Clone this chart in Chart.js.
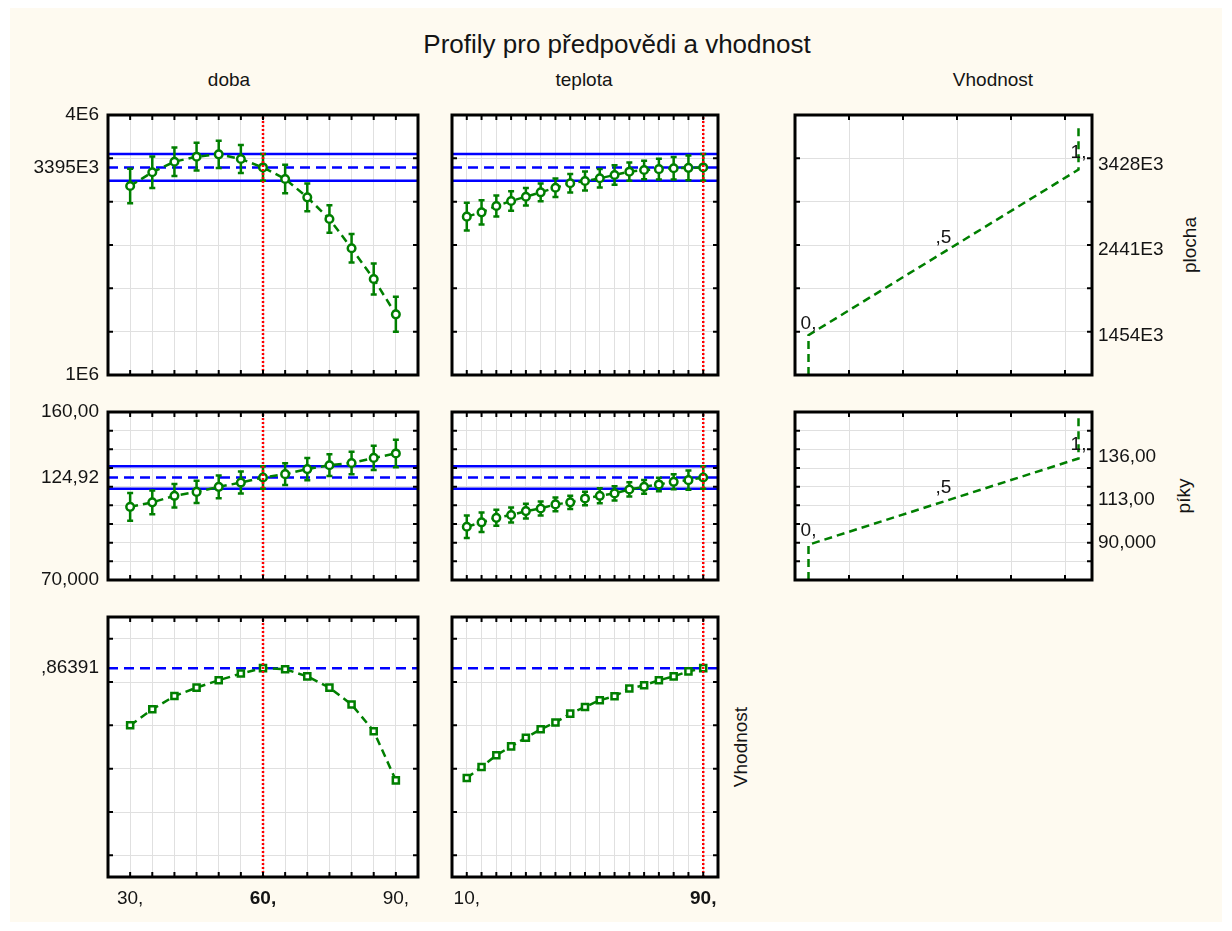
<!DOCTYPE html>
<html><head><meta charset="utf-8">
<script src="https://cdn.jsdelivr.net/npm/chart.js@4.4.0/dist/chart.umd.min.js"></script>
<style>
html,body{margin:0;padding:0;background:#fff;}
#page{position:relative;width:1232px;height:931px;overflow:hidden;background:#fff;font-family:"Liberation Sans",Arial,Helvetica,sans-serif;color:#141414;}
#bg{position:absolute;left:10px;top:8px;width:1212px;height:914px;background:#FEFAF0;}
canvas{position:absolute;}
.t{position:absolute;white-space:nowrap;line-height:1;font-size:19px;}
.c{transform:translateX(-50%);}
.r{transform:translate(-50%,-50%) rotate(-90deg);}
</style></head>
<body><div id="page"><div id="bg"></div>
<div class="t c" style="left:617px;top:31px;font-size:26px;">Profily pro předpovědi a vhodnost</div>
<div class="t c" style="left:229px;top:70px;">doba</div>
<div class="t c" style="left:584px;top:70px;">teplota</div>
<div class="t c" style="left:993px;top:70px;">Vhodnost</div>
<div class="t r" style="left:1189px;top:245px;">plocha</div>
<div class="t r" style="left:1183px;top:496px;">píky</div>
<div class="t r" style="left:740px;top:747px;">Vhodnost</div>
</div>
<script>
// ---------- data ----------
const doba = [30,35,40,45,50,55,60,65,70,75,80,85,90];
const teplota = [10,15,20,25,30,35,40,45,50,55,60,65,70,75,80,85,90];
const currentDoba = 60;
const currentTeplota = 90;

const plochaDoba = [3181e3,3339e3,3461e3,3519e3,3546e3,3492e3,3395e3,3262e3,3050e3,2800e3,2462e3,2108e3,1700e3];
const plochaDobaErr = [198e3,182e3,165e3,160e3,158e3,161e3,155e3,165e3,160e3,160e3,165e3,179e3,202e3];
const plochaTeplota = [2827e3,2877e3,2950e3,3008e3,3057e3,3108e3,3161e3,3212e3,3238e3,3270e3,3308e3,3346e3,3365e3,3375e3,3385e3,3390e3,3395e3];
const plochaTeplotaErr = [160e3,140e3,121e3,112e3,100e3,102e3,106e3,106e3,110e3,106e3,112e3,106e3,106e3,119e3,130e3,144e3,155e3];
const plochaCurrent = 3395e3;
const plochaHalfCI = 155e3;

const pikyDoba = [109.2,111.6,115.1,117.2,119.9,122.2,124.92,126.7,129.4,131.5,132.7,135.4,137.8];
const pikyDobaErr = [7.4,6.4,6.3,6.0,6.1,5.9,6.0,5.8,6.0,5.8,6.0,6.5,7.4];
const pikyTeplota = [98.5,100.9,103.3,104.8,106.9,108.3,110.5,111.6,113.7,115.1,116.4,118.5,119.9,121.2,122.6,123.5,124.92];
const pikyTeplotaErr = [6.0,5.2,4.3,4.0,4.0,3.7,3.7,3.6,3.6,4.0,3.8,3.8,3.7,3.6,4.0,5.2,6.0];
const pikyCurrent = 124.92;
const pikyHalfCI = 6.0;

const vhodnostDoba = [0.600,0.674,0.735,0.774,0.808,0.839,0.864,0.859,0.826,0.774,0.696,0.573,0.346];
const vhodnostTeplota = [0.357,0.408,0.462,0.503,0.543,0.582,0.613,0.654,0.685,0.716,0.734,0.770,0.785,0.808,0.826,0.849,0.864];
const vhodnostCurrent = 0.86391;

// desirability functions (x = desirability, y = response)
const desirX = [0, 0, 0.5, 1, 1];
const plochaDesirY = [1.0e6, 1460e3, 2415e3, 3370e3, 3905e3];
const pikyDesirY = [70, 88.9, 112.0, 135.1, 158.5];
const levelX = [0, 0.5, 1];
const levelTexts = ['0,', ',5', '1,'];
const plochaLevels = [1454e3, 2441e3, 3428e3];
const plochaLevelTexts = ['1454E3', '2441E3', '3428E3'];
const pikyLevels = [90, 113, 136];
const pikyLevelTexts = ['90,000', '113,00', '136,00'];

// axis ticks / labels
const plochaTicks = [1e6, 3395e3, 4e6];
const plochaTickTexts = ['1E6', '3395E3', '4E6'];
const pikyTicks = [70, 124.92, 160];
const pikyTickTexts = ['70,000', '124,92', '160,00'];
const vhodnostTicks = [0.86391];
const vhodnostTickTexts = [',86391'];
const dobaLabelTicks = [30, 60, 90];
const dobaLabelTexts = ['30,', '60,', '90,'];
const teplotaLabelTicks = [10, 90];
const teplotaLabelTexts = ['10,', '90,'];

const plochaGrid = [1.5e6, 2e6, 2.5e6, 3e6, 3.5e6];
const pikyGrid = [80, 90, 100, 110, 120, 130, 140, 150];
const vhodnostGrid = [0, 0.2, 0.4, 0.6, 0.8, 1.0];
const desirGrid = [0.15, 0.35, 0.55, 0.75, 0.95];

// ---------- drawing ----------
const FONT = '"Liberation Sans", Arial, Helvetica, sans-serif';
const FS = 19;
const GREEN = '#007f00', BLUE = '#0000ff', RED = '#ff0000', GRIDC = '#e0e0e0', INK = '#141414';

function makeDeco(d) {
  return {
    id: 'deco',
    beforeDraw(chart) {
      const {ctx, chartArea: a} = chart;
      ctx.save();
      ctx.fillStyle = '#ffffff';
      ctx.fillRect(a.left, a.top, a.right - a.left, a.bottom - a.top);
      ctx.restore();
    },
    beforeDatasetsDraw(chart) {
      const {ctx, chartArea: a} = chart;
      const x = chart.scales.x, y = chart.scales.y;
      ctx.save();
      ctx.beginPath(); ctx.rect(a.left, a.top, a.right - a.left, a.bottom - a.top); ctx.clip();
      (d.hLines || []).forEach(h => {
        const py = y.getPixelForValue(h.v);
        ctx.strokeStyle = BLUE; ctx.lineWidth = 2.5;
        ctx.setLineDash(h.dash ? [10, 6] : []);
        ctx.beginPath(); ctx.moveTo(a.left, py); ctx.lineTo(a.right, py); ctx.stroke();
      });
      if (d.err) {
        ctx.setLineDash([]); ctx.strokeStyle = GREEN; ctx.lineWidth = 2.5;
        d.err.x.forEach((xv, i) => {
          const px = x.getPixelForValue(xv);
          const y1 = y.getPixelForValue(d.err.y[i] - d.err.e[i]);
          const y2 = y.getPixelForValue(d.err.y[i] + d.err.e[i]);
          ctx.beginPath();
          ctx.moveTo(px, y1); ctx.lineTo(px, y2);
          ctx.moveTo(px - 3, y1); ctx.lineTo(px + 3, y1);
          ctx.moveTo(px - 3, y2); ctx.lineTo(px + 3, y2);
          ctx.stroke();
        });
      }
      ctx.restore();
    },
    afterDatasetsDraw(chart) {
      const {ctx, chartArea: a} = chart;
      const x = chart.scales.x, y = chart.scales.y;
      ctx.save();
      if (d.vLine != null) {
        const px = x.getPixelForValue(d.vLine);
        ctx.strokeStyle = RED; ctx.lineWidth = 2.5; ctx.setLineDash([2, 2]);
        ctx.beginPath(); ctx.moveTo(px, a.top + 2); ctx.lineTo(px, a.bottom); ctx.stroke();
      }
      if (d.annot) {
        ctx.setLineDash([]);
        ctx.fillStyle = INK; ctx.font = FS + 'px ' + FONT;
        ctx.textAlign = 'center'; ctx.textBaseline = 'alphabetic';
        d.annot.x.forEach((xv, i) => {
          ctx.fillText(d.annot.t[i], x.getPixelForValue(xv), y.getPixelForValue(d.annot.y[i]) - 7);
        });
      }
      ctx.restore();
    },
    afterDraw(chart) {
      const {ctx, chartArea: a} = chart;
      const x = chart.scales.x, y = chart.scales.y;
      ctx.save();
      ctx.setLineDash([]);
      ctx.strokeStyle = '#000'; ctx.lineWidth = 2;
      ctx.beginPath();
      x.ticks.forEach(t => {
        const px = x.getPixelForValue(t.value);
        ctx.moveTo(px, a.top); ctx.lineTo(px, a.top + 5);
        ctx.moveTo(px, a.bottom); ctx.lineTo(px, a.bottom - 5);
      });
      y.ticks.forEach(t => {
        const py = y.getPixelForValue(t.value);
        ctx.moveTo(a.left, py); ctx.lineTo(a.left + 5, py);
        ctx.moveTo(a.right, py); ctx.lineTo(a.right - 5, py);
      });
      ctx.stroke();
      ctx.lineWidth = 3;
      ctx.strokeRect(a.left, a.top, a.right - a.left, a.bottom - a.top);
      ctx.restore();
    }
  };
}

function zeroSize(ax) { if (ax.isHorizontal()) ax.height = 0; else ax.width = 0; }
function fixedSize(n) { return ax => { if (ax.isHorizontal()) ax.height = n; else ax.width = n; }; }

function makePanel(s) {
  const [L, T, R, B] = s.box;
  const m = {l: 110, t: 26, r: 110, b: 46};
  const pad = {left: m.l, top: m.t, right: m.r, bottom: m.b};
  const W = R - L + m.l + m.r, H = B - T + m.t + m.b;
  const cv = document.createElement('canvas');
  cv.width = W; cv.height = H;
  cv.style.left = (L - m.l) + 'px'; cv.style.top = (T - m.t) + 'px';
  cv.style.width = W + 'px'; cv.style.height = H + 'px';
  document.getElementById('page').appendChild(cv);
  const scales = {
    x: {type: 'linear', position: 'bottom', min: s.xMin, max: s.xMax,
        afterBuildTicks: ax => { ax.ticks = s.xGrid.map(v => ({value: v})); },
        afterFit: zeroSize, ticks: {display: false},
        grid: {color: GRIDC, lineWidth: 1, drawTicks: false}, border: {display: false}},
    y: {type: 'linear', position: 'left', min: s.yMin, max: s.yMax,
        afterBuildTicks: ax => { ax.ticks = s.yGrid.map(v => ({value: v})); },
        afterFit: zeroSize, ticks: {display: false},
        grid: {color: GRIDC, lineWidth: 1, drawTicks: false}, border: {display: false}}
  };
  if (s.yLab) {
    const left = s.yLab.pos === 'left';
    if (left) pad.left = 0; else pad.right = 0;
    scales.yl = {type: 'linear', position: s.yLab.pos, min: s.yMin, max: s.yMax,
      afterBuildTicks: ax => { ax.ticks = s.yLab.values.map(v => ({value: v})); },
      afterFit: fixedSize(left ? m.l : m.r), grid: {display: false, drawTicks: false}, border: {display: false},
      ticks: {display: true, autoSkip: false, padding: left ? 9 : 6, color: INK,
              font: {family: FONT, size: FS}, callback: (v, i) => s.yLab.texts[i]}};
  }
  if (s.xLab) {
    pad.bottom = 0;
    scales.xl = {type: 'linear', position: 'bottom', min: s.xMin, max: s.xMax,
      afterBuildTicks: ax => { ax.ticks = s.xLab.values.map(v => ({value: v})); },
      afterFit: fixedSize(m.b), grid: {display: false, drawTicks: false}, border: {display: false},
      ticks: {display: true, autoSkip: false, maxRotation: 0, minRotation: 0, padding: 10, color: INK,
              font: ctx => ({family: FONT, size: FS, weight: (ctx.tick && ctx.tick.value === s.xLab.bold) ? 'bold' : 'normal'}),
              callback: (v, i) => s.xLab.texts[i]}};
  }
  new Chart(cv, {
    type: 'scatter',
    data: {datasets: s.datasets},
    options: {
      responsive: false, animation: false, devicePixelRatio: 1, events: [],
      layout: {padding: pad},
      scales,
      plugins: {legend: {display: false}, tooltip: {enabled: false}, title: {display: false}}
    },
    plugins: [makeDeco(s.deco || {})]
  });
}

function profile(xs, ys, style) {
  return {
    data: xs.map((x, i) => ({x: x, y: ys[i]})),
    showLine: true, borderColor: GREEN, borderWidth: 2.5, borderDash: [8, 5],
    pointStyle: style, pointRadius: style === 'rect' ? 4.3 : 3.8, pointBorderWidth: 2.5,
    pointBackgroundColor: '#ffffff', pointBorderColor: GREEN
  };
}
function curve(xs, ys) {
  return {
    data: xs.map((x, i) => ({x: x, y: ys[i]})),
    showLine: true, borderColor: GREEN, borderWidth: 2.5, borderDash: [8, 5], pointRadius: 0
  };
}

const DOBA_RANGE = [25, 95], TEPLOTA_RANGE = [5, 95], DESIR_RANGE = [-0.05, 1.05];
const PLOCHA_RANGE = [1e6, 4e6], PIKY_RANGE = [70, 160], VHOD_RANGE = [-0.1, 1.1];

// row 1: plocha
makePanel({box: [108, 115, 418, 375], xMin: DOBA_RANGE[0], xMax: DOBA_RANGE[1], xGrid: doba,
  yMin: PLOCHA_RANGE[0], yMax: PLOCHA_RANGE[1], yGrid: plochaGrid,
  yLab: {pos: 'left', values: plochaTicks, texts: plochaTickTexts},
  datasets: [profile(doba, plochaDoba, 'circle')],
  deco: {hLines: [{v: plochaCurrent + plochaHalfCI}, {v: plochaCurrent, dash: true}, {v: plochaCurrent - plochaHalfCI}],
         err: {x: doba, y: plochaDoba, e: plochaDobaErr}, vLine: currentDoba}});
makePanel({box: [452, 115, 718, 375], xMin: TEPLOTA_RANGE[0], xMax: TEPLOTA_RANGE[1], xGrid: teplota,
  yMin: PLOCHA_RANGE[0], yMax: PLOCHA_RANGE[1], yGrid: plochaGrid,
  datasets: [profile(teplota, plochaTeplota, 'circle')],
  deco: {hLines: [{v: plochaCurrent + plochaHalfCI}, {v: plochaCurrent, dash: true}, {v: plochaCurrent - plochaHalfCI}],
         err: {x: teplota, y: plochaTeplota, e: plochaTeplotaErr}, vLine: currentTeplota}});
makePanel({box: [795, 115, 1092, 375], xMin: DESIR_RANGE[0], xMax: DESIR_RANGE[1], xGrid: desirGrid,
  yMin: PLOCHA_RANGE[0], yMax: PLOCHA_RANGE[1], yGrid: plochaGrid,
  yLab: {pos: 'right', values: plochaLevels, texts: plochaLevelTexts},
  datasets: [curve(desirX, plochaDesirY)],
  deco: {annot: {x: levelX, y: plochaLevels, t: levelTexts}}});

// row 2: piky
makePanel({box: [108, 412, 418, 580], xMin: DOBA_RANGE[0], xMax: DOBA_RANGE[1], xGrid: doba,
  yMin: PIKY_RANGE[0], yMax: PIKY_RANGE[1], yGrid: pikyGrid,
  yLab: {pos: 'left', values: pikyTicks, texts: pikyTickTexts},
  datasets: [profile(doba, pikyDoba, 'circle')],
  deco: {hLines: [{v: pikyCurrent + pikyHalfCI}, {v: pikyCurrent, dash: true}, {v: pikyCurrent - pikyHalfCI}],
         err: {x: doba, y: pikyDoba, e: pikyDobaErr}, vLine: currentDoba}});
makePanel({box: [452, 412, 718, 580], xMin: TEPLOTA_RANGE[0], xMax: TEPLOTA_RANGE[1], xGrid: teplota,
  yMin: PIKY_RANGE[0], yMax: PIKY_RANGE[1], yGrid: pikyGrid,
  datasets: [profile(teplota, pikyTeplota, 'circle')],
  deco: {hLines: [{v: pikyCurrent + pikyHalfCI}, {v: pikyCurrent, dash: true}, {v: pikyCurrent - pikyHalfCI}],
         err: {x: teplota, y: pikyTeplota, e: pikyTeplotaErr}, vLine: currentTeplota}});
makePanel({box: [795, 412, 1092, 580], xMin: DESIR_RANGE[0], xMax: DESIR_RANGE[1], xGrid: desirGrid,
  yMin: PIKY_RANGE[0], yMax: PIKY_RANGE[1], yGrid: pikyGrid,
  yLab: {pos: 'right', values: pikyLevels, texts: pikyLevelTexts},
  datasets: [curve(desirX, pikyDesirY)],
  deco: {annot: {x: levelX, y: pikyLevels, t: levelTexts}}});

// row 3: vhodnost
makePanel({box: [108, 617, 418, 877], xMin: DOBA_RANGE[0], xMax: DOBA_RANGE[1], xGrid: doba,
  yMin: VHOD_RANGE[0], yMax: VHOD_RANGE[1], yGrid: vhodnostGrid,
  yLab: {pos: 'left', values: vhodnostTicks, texts: vhodnostTickTexts},
  xLab: {values: dobaLabelTicks, texts: dobaLabelTexts, bold: currentDoba},
  datasets: [profile(doba, vhodnostDoba, 'rect')],
  deco: {hLines: [{v: vhodnostCurrent, dash: true}], vLine: currentDoba}});
makePanel({box: [452, 617, 718, 877], xMin: TEPLOTA_RANGE[0], xMax: TEPLOTA_RANGE[1], xGrid: teplota,
  yMin: VHOD_RANGE[0], yMax: VHOD_RANGE[1], yGrid: vhodnostGrid,
  xLab: {values: teplotaLabelTicks, texts: teplotaLabelTexts, bold: currentTeplota},
  datasets: [profile(teplota, vhodnostTeplota, 'rect')],
  deco: {hLines: [{v: vhodnostCurrent, dash: true}], vLine: currentTeplota}});
</script>
</body></html>
